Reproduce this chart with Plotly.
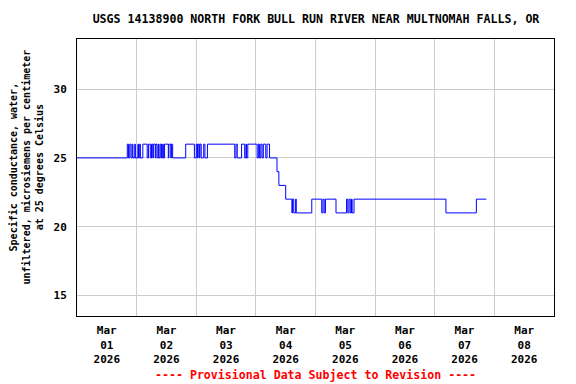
import plotly.graph_objects as go

# Change points of the 15-minute record (value holds until next time)
times = [
    "2026-03-01 00:00", "2026-03-01 20:15", "2026-03-01 20:45", "2026-03-01 21:15",
    "2026-03-01 21:45", "2026-03-01 22:15", "2026-03-01 22:30", "2026-03-01 23:15",
    "2026-03-01 23:30", "2026-03-02 00:30", "2026-03-02 00:45", "2026-03-02 01:15",
    "2026-03-02 01:30", "2026-03-02 02:30", "2026-03-02 04:15", "2026-03-02 04:45",
    "2026-03-02 05:30", "2026-03-02 06:00", "2026-03-02 06:30", "2026-03-02 06:45",
    "2026-03-02 07:30", "2026-03-02 07:45", "2026-03-02 08:15", "2026-03-02 08:45",
    "2026-03-02 09:00", "2026-03-02 09:30", "2026-03-02 10:00", "2026-03-02 10:30",
    "2026-03-02 10:45", "2026-03-02 11:15", "2026-03-02 12:45", "2026-03-02 13:00",
    "2026-03-02 13:45", "2026-03-02 14:00", "2026-03-02 14:30", "2026-03-02 19:45",
    "2026-03-02 23:15", "2026-03-03 00:00", "2026-03-03 00:30", "2026-03-03 00:45",
    "2026-03-03 01:15", "2026-03-03 01:30", "2026-03-03 02:00", "2026-03-03 03:00",
    "2026-03-03 03:30", "2026-03-03 04:30", "2026-03-03 15:30", "2026-03-03 16:00",
    "2026-03-03 16:30", "2026-03-03 18:15", "2026-03-03 19:30", "2026-03-03 20:00",
    "2026-03-03 20:15", "2026-03-03 20:45", "2026-03-04 00:30", "2026-03-04 01:00",
    "2026-03-04 01:30", "2026-03-04 02:00", "2026-03-04 02:30", "2026-03-04 03:00",
    "2026-03-04 04:00", "2026-03-04 04:30", "2026-03-04 05:30", "2026-03-04 08:30",
    "2026-03-04 09:15", "2026-03-04 12:00", "2026-03-04 14:30", "2026-03-04 14:45",
    "2026-03-04 15:15", "2026-03-04 16:00", "2026-03-04 16:15", "2026-03-04 22:30",
    "2026-03-05 02:30", "2026-03-05 03:00", "2026-03-05 03:30", "2026-03-05 04:00",
    "2026-03-05 08:15", "2026-03-05 12:30", "2026-03-05 13:00", "2026-03-05 13:30",
    "2026-03-05 14:00", "2026-03-05 14:30", "2026-03-05 14:45", "2026-03-05 15:30",
    "2026-03-07 04:30", "2026-03-07 16:45", "2026-03-07 20:45",
]
values = [
    25, 26, 25, 26,
    25, 26, 25, 26,
    25, 26, 25, 26,
    25, 26, 25, 26,
    25, 26, 25, 26,
    25, 26, 25, 26,
    25, 26, 25, 26,
    25, 26, 25, 26,
    25, 26, 25, 26,
    25, 26, 25, 26,
    25, 26, 25, 26,
    25, 26, 25, 26,
    25, 26, 25, 26,
    25, 26, 25, 26,
    25, 26, 25, 26,
    25, 26, 25, 24,
    23, 22, 21, 22,
    21, 22, 21, 22,
    21, 22, 21, 22,
    21, 22, 21, 22,
    21, 22, 21, 22,
    21, 22, 22,
]

day_centers = ["2026-03-01 12:00", "2026-03-02 12:00", "2026-03-03 12:00", "2026-03-04 12:00",
               "2026-03-05 12:00", "2026-03-06 12:00", "2026-03-07 12:00", "2026-03-08 12:00"]
day_labels = ["Mar<br>01<br>2026", "Mar<br>02<br>2026", "Mar<br>03<br>2026", "Mar<br>04<br>2026",
              "Mar<br>05<br>2026", "Mar<br>06<br>2026", "Mar<br>07<br>2026", "Mar<br>08<br>2026"]
day_bounds = ["2026-03-02", "2026-03-03", "2026-03-04", "2026-03-05",
              "2026-03-06", "2026-03-07", "2026-03-08"]
y_ticks = [15, 20, 25, 30]

FONT = "DejaVu Sans Mono"
W, H = 568, 376  # page body adds an 8px offset

fig = go.Figure()
fig.add_trace(go.Scatter(x=times, y=values, mode="lines", line_shape="hv",
                         line=dict(color="#0000ff", width=1), showlegend=False))

fig.update_layout(
    width=W, height=H,
    margin=dict(l=69, r=22, t=31, b=68),
    paper_bgcolor="white", plot_bgcolor="white",
    font=dict(family=FONT, size=11, color="black"),
    title=dict(text="<b>USGS 14138900 NORTH FORK BULL RUN RIVER NEAR MULTNOMAH FALLS, OR</b>",
               x=(316 - 8) / W, xanchor="center", y=1 - 11 / H, yanchor="middle",
               font=dict(family=FONT, size=11.6, color="black")),
    xaxis=dict(
        type="date", range=["2026-03-01", "2026-03-09"],
        tickmode="array", tickvals=day_centers,
        ticktext=["<b>" + t.replace("<br>", "</b><br><b>") + "</b>" for t in day_labels],
        showgrid=False, ticks="", ticklabelstandoff=4,
        showline=True, linecolor="black", linewidth=1, mirror=True,
        minor=dict(tickmode="array", tickvals=day_bounds, showgrid=True,
                   gridcolor="#cccccc", gridwidth=1, ticks=""),
        tickfont=dict(family=FONT, size=11, color="black"),
        zeroline=False,
    ),
    yaxis=dict(
        range=[13.5, 33.65], tickmode="array", tickvals=y_ticks,
        ticktext=["<b>%d</b>" % v for v in y_ticks],
        showgrid=True, gridcolor="#cccccc", gridwidth=1,
        ticks="", ticklabelstandoff=7,
        showline=True, linecolor="black", linewidth=1, mirror=True,
        tickfont=dict(family=FONT, size=11, color="black"),
        zeroline=False,
    ),
    annotations=[
        dict(text="<b>Specific conductance, water,<br>unfiltered, microsiemens per centimeter<br>at 25 degrees Celsius</b>",
             textangle=-90, xref="paper", yref="paper", x=(27 - 77) / 477, y=0.536,
             xanchor="center", yanchor="middle", showarrow=False,
             font=dict(family=FONT, size=10, color="black")),
        dict(text="<b>---- Provisional Data Subject to Revision ----</b>",
             xref="paper", yref="paper", x=0.5, y=(316 - 375) / 277,
             xanchor="center", yanchor="middle", showarrow=False,
             font=dict(family=FONT, size=11.6, color="red")),
    ],
)

fig.write_html("out.html")
